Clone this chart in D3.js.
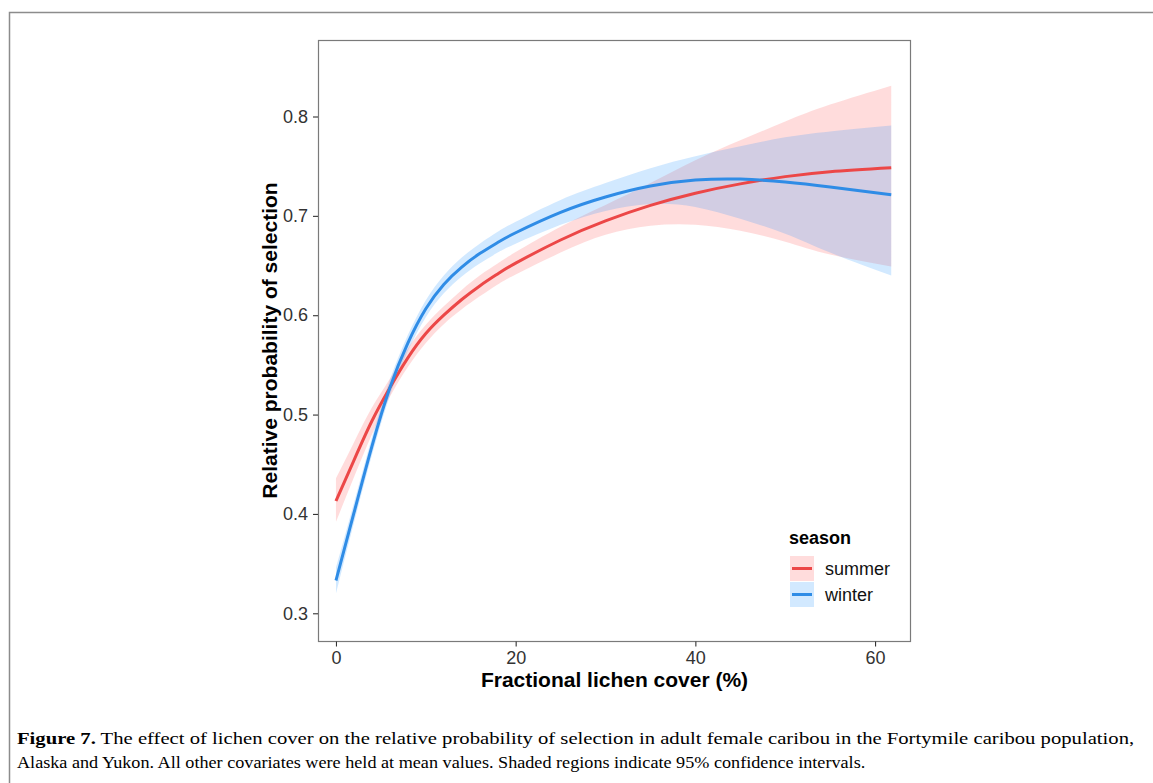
<!DOCTYPE html>
<html>
<head>
<meta charset="utf-8">
<script src="https://cdn.jsdelivr.net/npm/d3@7"></script>
<style>
  body { margin: 0; background: #fff; }
  svg { display: block; }
</style>
</head>
<body>
<div id="chart"></div>
<script>
// Fractional lichen cover (%) at which the fitted curves were read
var lichenCover = [0, 2, 4, 6, 8, 10, 12, 14, 16, 18, 20, 25, 30, 35, 40, 45, 50, 55, 61.8];

// summer: fit and 95% CI
var summerFit   = [0.413, 0.454, 0.4935, 0.527, 0.557, 0.5815, 0.600, 0.6158, 0.6295, 0.6416, 0.6524, 0.6757, 0.6949, 0.7105, 0.7228, 0.7322, 0.7395, 0.7445, 0.7485];
var summerLower = [0.392, 0.437, 0.480, 0.518, 0.548, 0.572, 0.591, 0.606, 0.619, 0.631, 0.641, 0.663, 0.681, 0.690, 0.691, 0.685, 0.674, 0.661, 0.649];
var summerUpper = [0.436, 0.472, 0.507, 0.536, 0.5665, 0.5905, 0.609, 0.6255, 0.640, 0.652, 0.6635, 0.689, 0.711, 0.733, 0.756, 0.776, 0.795, 0.812, 0.831];

// winter: fit and 95% CI
var winterFit   = [0.333, 0.401, 0.468, 0.527, 0.572, 0.6065, 0.631, 0.6485, 0.662, 0.6732, 0.683, 0.7035, 0.719, 0.730, 0.736, 0.737, 0.734, 0.729, 0.7213];
var winterLower = [0.320, 0.391, 0.459, 0.519, 0.564, 0.598, 0.622, 0.639, 0.652, 0.663, 0.672, 0.691, 0.705, 0.712, 0.709, 0.697, 0.682, 0.663, 0.640];
var winterUpper = [0.346, 0.411, 0.477, 0.535, 0.580, 0.615, 0.640, 0.658, 0.672, 0.684, 0.694, 0.716, 0.733, 0.748, 0.760, 0.770, 0.779, 0.785, 0.791];

var seasons = ["summer", "winter"];
var xTicks = [0, 20, 40, 60];
var yTicks = [0.3, 0.4, 0.5, 0.6, 0.7, 0.8];

var xTitle = "Fractional lichen cover (%)";
var yTitle = "Relative probability of selection";
var captionLead = "Figure 7.";
var captionLine1 = " The effect of lichen cover on the relative probability of selection in adult female caribou in the Fortymile caribou population,";
var captionLine2 = "Alaska and Yukon. All other covariates were held at mean values. Shaded regions indicate 95% confidence intervals.";

var W = 1153, H = 783;
var svg = d3.select("#chart").append("svg")
    .attr("width", W)
    .attr("height", H);

// Outer figure frame (open at the bottom)
svg.append("path")
    .attr("d", "M9.5," + H + "V12.5H" + W)
    .attr("fill", "none")
    .attr("stroke", "#8c8c8c")
    .attr("stroke-width", 1.5);

// Define panel
var panel = { left: 318, top: 40, right: 911, bottom: 641 };

// Define scales
var x = d3.scaleLinear().domain([-2, 64]).range([panel.left, panel.right]);
var y = d3.scaleLinear().domain([0.2721, 0.877]).range([panel.bottom, panel.top]);
var color = d3.scaleOrdinal().domain(seasons).range(["#ec4747", "#2f8ce6"]);
var fill = d3.scaleOrdinal().domain(seasons).range(["#ff6b6b", "#1e90ff"]);
var fillOpacity = d3.scaleOrdinal().domain(seasons).range([0.24, 0.2]);

// Reshape the arrays into one series per season
var series = [
    { season: "summer", fit: summerFit, lo: summerLower, hi: summerUpper },
    { season: "winter", fit: winterFit, lo: winterLower, hi: winterUpper }
].map(function (s) {
    return {
        season: s.season,
        points: lichenCover.map(function (u, i) {
            return { u: u, fit: s.fit[i], lo: s.lo[i], hi: s.hi[i] };
        })
    };
});

var area = d3.area()
    .x(function (d) { return x(d.u); })
    .y0(function (d) { return y(d.lo); })
    .y1(function (d) { return y(d.hi); })
    .curve(d3.curveNatural);

var line = d3.line()
    .x(function (d) { return x(d.u); })
    .y(function (d) { return y(d.fit); })
    .curve(d3.curveNatural);

// Confidence ribbons
svg.append("g").selectAll("path")
    .data(series)
    .enter().append("path")
    .attr("d", function (d) { return area(d.points); })
    .attr("fill", function (d) { return fill(d.season); })
    .attr("fill-opacity", function (d) { return fillOpacity(d.season); });

// Fitted lines
svg.append("g").selectAll("path")
    .data(series)
    .enter().append("path")
    .attr("d", function (d) { return line(d.points); })
    .attr("fill", "none")
    .attr("stroke", function (d) { return color(d.season); })
    .attr("stroke-width", 3);

// Panel border
svg.append("rect")
    .attr("x", panel.left + 0.5)
    .attr("y", panel.top + 0.5)
    .attr("width", panel.right - panel.left - 1)
    .attr("height", panel.bottom - panel.top)
    .attr("fill", "none")
    .attr("stroke", "#7a7a7a")
    .attr("stroke-width", 1.2);

// Axes
var xAxis = d3.axisBottom(x).tickValues(xTicks).tickSize(5).tickPadding(5);
var yAxis = d3.axisLeft(y).tickValues(yTicks).tickSize(5).tickPadding(5).tickFormat(d3.format(".1f"));

var gx = svg.append("g")
    .attr("transform", "translate(0," + (panel.bottom + 0.5) + ")")
    .call(xAxis);
var gy = svg.append("g")
    .attr("transform", "translate(" + panel.left + ",0)")
    .call(yAxis);

[gx, gy].forEach(function (g) {
    g.select(".domain").remove();
    g.selectAll(".tick line").attr("stroke", "#333").attr("stroke-width", 1.1);
    g.selectAll(".tick text")
        .attr("fill", "#333")
        .style("font-family", "'Liberation Sans', Arial, sans-serif")
        .style("font-size", "18px");
});

// Axis titles
svg.append("text")
    .attr("x", (panel.left + panel.right) / 2)
    .attr("y", 687)
    .attr("text-anchor", "middle")
    .style("font-family", "'Liberation Sans', Arial, sans-serif")
    .style("font-size", "21px")
    .style("font-weight", "bold")
    .text(xTitle);

svg.append("text")
    .attr("transform", "translate(277," + ((panel.top + panel.bottom) / 2) + ") rotate(-90)")
    .attr("text-anchor", "middle")
    .style("font-family", "'Liberation Sans', Arial, sans-serif")
    .style("font-size", "21px")
    .style("font-weight", "bold")
    .text(yTitle);

// Legend
var legend = svg.append("g").attr("transform", "translate(790,544)");
legend.append("text")
    .attr("x", -1)
    .attr("y", 0)
    .style("font-family", "'Liberation Sans', Arial, sans-serif")
    .style("font-size", "18px")
    .style("font-weight", "bold")
    .text("season");

var keys = legend.selectAll(".key")
    .data(seasons)
    .enter().append("g")
    .attr("class", "key")
    .attr("transform", function (d, i) { return "translate(0," + (12 + i * 26) + ")"; });

keys.append("rect")
    .attr("width", 24)
    .attr("height", 25)
    .attr("fill", function (d) { return fill(d); })
    .attr("fill-opacity", function (d) { return fillOpacity(d); });

keys.append("line")
    .attr("x1", 2).attr("x2", 22)
    .attr("y1", 12.5).attr("y2", 12.5)
    .attr("stroke", function (d) { return color(d); })
    .attr("stroke-width", 3);

keys.append("text")
    .attr("x", 35)
    .attr("y", 19)
    .style("font-family", "'Liberation Sans', Arial, sans-serif")
    .style("font-size", "18px")
    .attr("fill", "#111")
    .text(function (d) { return d; });

// Caption
var cap = svg.append("g")
    .style("font-family", "'Liberation Serif', 'Times New Roman', serif")
    .style("font-size", "17.5px")
    .attr("fill", "#000");

var c1 = cap.append("text").attr("x", 17).attr("y", 744);
c1.append("tspan").style("font-weight", "bold").text(captionLead);
c1.append("tspan").text(captionLine1);

var c2 = cap.append("text").attr("x", 17).attr("y", 768).text(captionLine2);

// Squeeze caption lines to the measured widths
function fitWidth(t, x0, target) {
    var w = t.node().getComputedTextLength();
    var k = target / w;
    t.attr("transform", "translate(" + x0 + ",0) scale(" + k + ",1) translate(" + (-x0) + ",0)");
}
fitWidth(c1, 17, 1135 - 17);
fitWidth(c2, 17, 866 - 17);
</script>
</body>
</html>
